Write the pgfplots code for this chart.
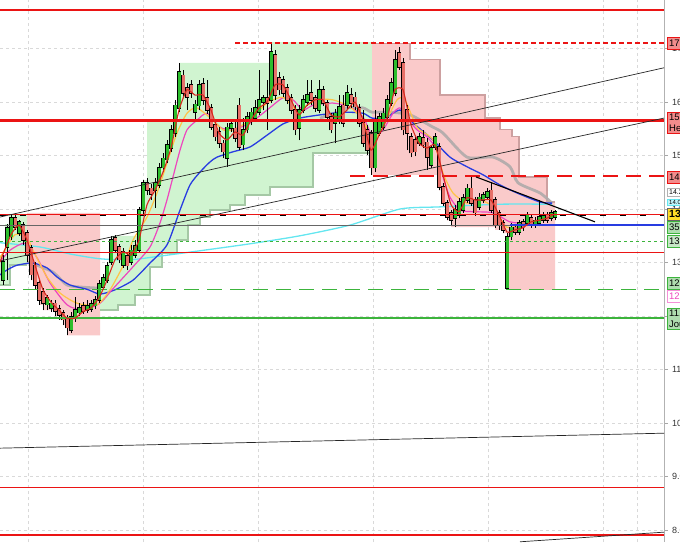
\documentclass[border=0pt]{standalone}
\usepackage{pgfplots}
\pgfplotsset{compat=1.18}
\usepackage{pgfplotstable}
\usepackage{fontspec}
\setmainfont{Liberation Sans}

\definecolor{cgreen}{RGB}{45,190,45}
\definecolor{cred}{RGB}{230,112,104}
\definecolor{shgreen}{RGB}{208,244,208}
\definecolor{shpink}{RGB}{250,202,202}
\definecolor{lvred}{RGB}{235,20,20}
\definecolor{lvgreen}{RGB}{60,180,60}
\definecolor{maRed}{RGB}{215,40,30}
\definecolor{maYel}{RGB}{255,195,70}
\definecolor{maPink}{RGB}{238,70,190}
\definecolor{maBlue}{RGB}{40,60,225}
\definecolor{maCyan}{RGB}{100,230,240}
\definecolor{trGrey}{RGB}{175,170,170}
\definecolor{trGreen}{RGB}{165,200,165}
\definecolor{trPink}{RGB}{205,160,160}
\definecolor{tagred}{RGB}{242,140,140}
\definecolor{taggreen}{RGB}{175,222,175}
\definecolor{tagyel}{RGB}{255,221,40}

% x = bar position, o h l c = open high low close
\pgfplotstableread{
x o h l c
3 12.67 13.14 12.58 13.01
7 13.29 13.72 12.67 13.65
11 13.48 13.91 13.42 13.83
15 13.83 13.93 13.61 13.66
19 13.55 13.79 13.50 13.76
23 13.70 13.76 13.33 13.42
27 13.55 13.61 13.01 13.14
31 13.27 13.33 12.67 12.77
35 12.95 13.01 12.49 12.58
39 12.62 12.67 12.21 12.30
43 12.45 12.52 12.11 12.24
47 12.21 12.39 12.11 12.34
51 12.15 12.30 12.08 12.24
55 12.24 12.30 12.00 12.09
59 12.13 12.21 11.93 12.02
63 12.06 12.11 11.83 11.93
67 11.96 12.02 11.64 11.78
71 11.74 12.08 11.68 11.98
75 11.96 12.36 11.89 12.11
79 12.06 12.24 12.00 12.15
83 12.19 12.26 12.04 12.09
87 12.11 12.30 12.06 12.19
91 12.13 12.30 12.08 12.23
95 12.19 12.37 12.13 12.30
99 12.30 12.67 12.24 12.60
103 12.54 12.79 12.49 12.71
107 12.67 13.01 12.62 12.94
111 13.01 13.50 12.95 13.42
115 13.46 13.52 13.18 13.23
119 13.29 13.35 12.99 13.05
123 12.95 13.27 12.90 13.20
127 13.12 13.18 12.86 12.94
131 13.01 13.33 12.95 13.23
135 13.14 13.42 13.09 13.31
139 13.23 14.04 13.18 13.98
143 13.98 14.54 13.91 14.49
147 14.49 14.58 14.26 14.35
151 14.39 14.47 14.17 14.28
155 14.35 14.58 14.02 14.49
159 14.45 14.86 14.39 14.77
163 14.77 15.05 14.69 14.95
167 14.92 15.29 14.86 15.20
171 15.14 15.57 15.07 15.48
175 15.42 16.04 15.35 15.94
179 15.89 16.73 15.81 16.56
183 16.50 16.60 16.09 16.17
187 16.26 16.36 15.85 16.09
191 16.32 16.41 16.08 16.17
195 15.81 16.04 15.66 15.96
199 15.93 16.41 15.85 16.32
203 16.34 16.45 15.94 16.04
207 16.08 16.41 15.78 15.85
211 15.89 15.96 15.48 15.53
215 15.57 15.66 15.27 15.35
219 15.44 15.53 15.14 15.23
223 15.23 15.29 14.95 15.07
227 14.95 15.61 14.79 15.53
231 15.51 15.66 15.44 15.59
235 15.51 15.63 15.25 15.33
239 15.94 16.08 15.10 15.16
243 15.20 15.70 15.10 15.48
247 15.48 15.81 15.42 15.72
251 15.63 15.89 15.57 15.81
255 15.70 16.04 15.63 15.89
259 15.81 16.60 15.76 16.04
263 16.00 16.13 15.85 16.08
267 16.08 16.41 15.48 15.98
271 16.04 17.12 15.98 16.94
275 16.88 16.97 16.04 16.13
279 16.45 16.56 16.13 16.23
283 16.41 16.49 16.09 16.17
287 16.26 16.34 15.96 16.04
291 16.08 16.15 15.78 15.85
295 15.85 15.94 15.38 15.48
299 15.51 15.94 15.29 15.85
303 15.85 16.13 15.79 16.04
307 16.00 16.41 15.93 16.13
311 16.17 16.41 15.94 16.04
315 16.08 16.13 15.81 15.89
319 15.85 16.41 15.79 16.23
323 16.23 16.30 15.93 15.98
327 15.98 16.04 15.66 15.72
331 15.72 15.79 15.42 15.48
335 15.61 15.87 15.23 15.79
339 15.66 16.13 15.59 15.91
343 15.94 16.13 15.53 15.61
347 15.94 16.32 15.85 16.17
351 16.13 16.26 15.89 15.98
355 16.09 16.19 15.85 15.91
359 15.89 15.96 15.53 15.61
363 15.61 15.85 15.16 15.23
367 15.48 15.57 15.01 15.10
371 15.42 15.48 14.64 14.77
375 14.77 15.85 14.69 15.66
379 15.42 15.79 15.37 15.72
383 15.53 15.89 15.48 15.79
387 15.72 16.13 15.66 16.04
391 15.98 16.45 15.93 16.36
395 16.17 16.97 16.11 16.79
399 16.92 17.03 16.60 16.65
403 16.73 16.82 15.38 15.48
407 15.85 15.94 15.10 15.42
411 15.35 15.42 14.97 15.05
415 15.29 15.37 14.99 15.07
419 15.23 15.42 15.18 15.35
423 15.33 15.48 15.14 15.20
427 15.25 15.33 14.73 14.97
431 14.82 15.20 14.77 15.14
435 15.16 15.42 15.10 15.35
439 15.16 15.23 14.35 14.41
443 14.41 14.49 14.06 14.11
447 14.11 14.17 13.79 13.85
451 13.93 13.98 13.70 13.79
455 13.83 14.08 13.66 13.98
459 13.89 14.21 13.83 14.13
463 13.98 14.28 13.93 14.21
467 14.17 14.47 14.11 14.39
471 14.39 14.60 14.06 14.11
475 14.17 14.22 13.87 13.93
479 14.04 14.30 13.98 14.22
483 14.17 14.32 14.11 14.26
487 14.22 14.39 14.17 14.32
491 14.35 14.51 13.93 13.98
495 14.17 14.22 13.65 13.70
499 13.93 13.98 13.61 13.70
503 13.74 13.79 13.55 13.61
507 12.52 13.55 12.49 13.48
511 13.48 13.74 13.42 13.66
515 13.66 13.72 13.52 13.57
519 13.57 13.79 13.52 13.74
523 13.76 13.81 13.59 13.65
527 13.74 13.95 13.68 13.89
531 13.83 13.89 13.65 13.70
535 13.70 13.85 13.65 13.79
539 13.74 14.17 13.68 13.85
543 13.79 13.95 13.74 13.89
547 13.89 13.95 13.74 13.79
551 13.83 13.98 13.78 13.93
555 13.85 13.98 13.79 13.95
}\candles

\tikzset{tag/.style={anchor=west, inner xsep=2pt, inner ysep=0pt, minimum height=12.5pt,
  font=\fontsize{9.5}{11}\selectfont, text=black}}
\pgfplotsset{nomark/.style={only marks, mark=*, mark size=0pt, mark options={draw=none, fill=none}},
  level/.style={solid, line width=1.4pt, draw=#1, color=#1}}

\begin{document}
\begin{tikzpicture}
\useasboundingbox (0pt,0pt) rectangle (680pt,542pt);
\clip (0pt,0pt) rectangle (680pt,542pt);
\begin{axis}[
  at={(0pt,0pt)}, anchor=south west, scale only axis,
  width=664pt, height=542pt,
  xmin=0, xmax=664, ymin=7.776, ymax=17.907,
  clip=false,
  axis x line*=bottom, x axis line style={draw=none},
  xtick={28,143,258,373,488,603,637}, xticklabels={}, xtick style={draw=none},
  axis y line*=right, y axis line style={draw=gray!60, line width=0.8pt, -},
  ytick={8,...,17}, yticklabels={8.00,9.00,10.00,11.00,12.00,13.00,14.00,15.00,16.00,17.00},
  yticklabel pos=right, ytick pos=right, tick align=outside, major tick length=4pt,
  ytick style={draw=gray!70, line width=0.6pt},
  yticklabel style={font=\fontsize{9}{11}\selectfont, text=black!80, xshift=0.5pt},
  xmajorgrids, ymajorgrids,
  major grid style={gray!30, dash pattern=on 3pt off 3pt, line width=0.5pt},
]

% trend zones
\addplot[fill=shgreen, draw=none] coordinates {(0,13.14) (5,13.14) (5,13.72) (9,13.72) (9,13.91) (27,13.91) (27,12.95) (10,12.95) (10,12.58) (0,12.58)};
\addplot[fill=shpink, draw=none] coordinates {(27,13.93) (100,13.93) (100,11.64) (67,11.64) (67,11.83) (63,11.83) (63,11.93) (59,11.93) (59,12.00) (55,12.00) (55,12.11) (43,12.11) (43,12.21) (39,12.21) (39,12.49) (35,12.49) (35,12.67) (31,12.67) (31,13.01) (27,13.01)};
\addplot[fill=shgreen, draw=none] coordinates {(100,12.67) (103,12.67) (103,12.79) (107,12.79) (107,13.01) (111,13.01) (111,13.50) (139,13.50) (139,14.04) (143,14.04) (143,14.54) (147,14.54) (147,15.66) (179,15.66) (179,16.73) (271,16.73) (271,17.12) (372,17.12)
  (372,15.05) (313,15.05) (313,14.41) (270,14.41) (270,14.26) (245,14.26) (245,14.08) (230,14.08) (230,13.98) (210,13.98) (210,13.85) (200,13.85) (200,13.70) (188,13.70) (188,13.42) (177,13.42) (177,13.18) (162,13.18) (162,12.92) (150,12.92) (150,12.39) (135,12.39) (135,12.21) (118,12.21) (118,12.11) (100,12.11)};
\addplot[fill=shpink, draw=none] coordinates {(372,17.10) (410,17.10) (410,16.79) (440,16.79) (440,16.13) (485,16.13) (485,15.70) (500,15.70) (500,15.48) (512,15.48) (512,15.35) (519,15.35) (519,14.60) (547,14.60) (547,14.13) (555,14.13)
  (555,12.49) (507,12.49) (507,13.55) (503,13.55) (503,13.61) (495,13.61) (495,13.66) (451,13.66) (451,13.79) (447,13.79) (447,14.06) (443,14.06) (443,14.35) (439,14.35) (439,14.64) (372,14.64)};

% trailing stops
\addplot[trGreen, line width=1.8pt] coordinates {(0,12.58) (10,12.58) (10,12.95) (27,12.95)};
\addplot[trGreen, line width=1.8pt] coordinates {(100,12.11) (118,12.11) (118,12.21) (135,12.21) (135,12.39) (150,12.39) (150,12.92) (162,12.92) (162,13.18) (177,13.18) (177,13.42) (188,13.42) (188,13.70) (200,13.70) (200,13.85) (210,13.85) (210,13.98) (230,13.98) (230,14.08) (245,14.08) (245,14.26) (270,14.26) (270,14.41) (313,14.41) (313,15.05) (372,15.05)};
\addplot[trPink, line width=1.2pt] coordinates {(372,17.10) (410,17.10) (410,16.79) (440,16.79) (440,16.13) (485,16.13) (485,15.70) (500,15.70) (500,15.48) (512,15.48) (512,15.35) (519,15.35) (519,14.60) (547,14.60) (547,14.13) (555,14.13)};

% moving averages
\addplot[maCyan, line width=1.3pt, smooth, tension=0.4] coordinates {(0,13.37) (40,13.29) (70,13.16) (100,13.07) (130,13.05) (160,13.12) (200,13.22) (250,13.35) (300,13.50) (350,13.70) (400,14.00) (440,14.04) (500,14.09) (552,14.09)};
\addplot[trGrey, line width=2.8pt, opacity=0.9, smooth, tension=0.4] coordinates {(27,13.01) (37,12.95) (53,12.82) (67,12.58) (82,12.54) (100,12.52)};
\addplot[trGrey, line width=2.8pt, opacity=0.9, smooth, tension=0.4] coordinates {(320,15.70) (337,15.81) (347,15.89) (363,15.89) (372,15.81) (390,15.81) (410,15.76) (433,15.53) (443,15.42) (467,14.97) (493,14.97) (510,14.79) (518,14.49) (540,14.30) (552,14.11)};
\addplot[maBlue, line width=1.3pt, smooth, tension=0.4] coordinates {(0,12.77) (7,12.86) (17,12.95) (33,12.99) (47,12.90) (57,12.73) (70,12.58) (87,12.50) (100,12.41) (115,12.49) (133,12.67) (150,12.99) (167,13.33) (180,13.98) (190,14.45) (200,14.69) (210,14.88) (217,14.97) (233,15.07) (250,15.16) (267,15.38) (283,15.59) (300,15.70) (320,15.76) (343,15.81) (363,15.79) (372,15.70) (385,15.70) (400,15.85) (413,15.61) (433,15.29) (450,14.97) (467,14.79) (483,14.64) (500,14.45) (517,14.30) (540,14.13) (552,14.11)};
\addplot[maPink, line width=1.2pt, smooth, tension=0.4] coordinates {(0,13.01) (10,13.23) (25,13.36) (37,13.09) (50,12.62) (67,12.21) (83,12.11) (100,12.24) (112,12.49) (133,12.92) (150,13.29) (160,13.74) (167,14.17) (173,14.60) (180,15.10) (187,15.48) (197,15.66) (207,15.79) (220,15.53) (233,15.48) (250,15.61) (267,15.85) (283,16.08) (293,16.04) (303,15.85) (313,15.94) (333,15.98) (350,15.91) (363,15.72) (373,15.35) (383,15.48) (393,15.79) (400,15.89) (407,15.70) (417,15.48) (427,15.35) (437,15.10) (443,14.60) (450,14.22) (460,13.98) (473,13.95) (493,13.93) (510,13.76) (527,13.74) (547,13.85) (555,13.89)};
\addplot[maYel, line width=1.2pt, smooth, tension=0.4] coordinates {(0,13.09) (15,13.52) (27,13.46) (33,13.23) (47,12.73) (60,12.43) (77,12.24) (97,12.21) (110,12.49) (125,13.01) (133,13.42) (147,13.85) (157,14.30) (167,14.86) (177,15.42) (187,15.79) (197,15.89) (213,15.66) (223,15.48) (233,15.48) (250,15.66) (267,15.98) (283,16.09) (297,15.85) (317,16.04) (333,16.04) (350,15.91) (363,15.66) (373,15.29) (383,15.53) (397,16.04) (405,16.04) (417,15.53) (433,15.29) (443,14.67) (453,14.30) (467,14.11) (480,14.17) (493,14.04) (507,13.66) (527,13.74) (547,13.85) (555,13.91)};

% candles: wicks, then bodies (black outline, coloured fill)
\addplot[black, nomark, error bars/.cd, y dir=plus, y explicit, error mark=none,
  error bar style={line width=0.7pt}]
  table[x=x, y=l, y error expr=\thisrow{h}-\thisrow{l}] {\candles};
\addplot[black, nomark, restrict expr to domain={\thisrow{c}-\thisrow{o}}{0:20},
  error bars/.cd, y dir=plus, y explicit, error mark=none, error bar style={line width=4.2pt}]
  table[x=x, y expr=\thisrow{o}-0.012, y error expr=\thisrow{c}-\thisrow{o}+0.024] {\candles};
\addplot[cgreen, nomark, restrict expr to domain={\thisrow{c}-\thisrow{o}}{0:20},
  error bars/.cd, y dir=plus, y explicit, error mark=none, error bar style={line width=3pt}]
  table[x=x, y=o, y error expr=\thisrow{c}-\thisrow{o}] {\candles};
\addplot[black, nomark, restrict expr to domain={\thisrow{o}-\thisrow{c}}{0.001:20},
  error bars/.cd, y dir=plus, y explicit, error mark=none, error bar style={line width=4.2pt}]
  table[x=x, y expr=\thisrow{c}-0.012, y error expr=\thisrow{o}-\thisrow{c}+0.024] {\candles};
\addplot[cred, nomark, restrict expr to domain={\thisrow{o}-\thisrow{c}}{0.001:20},
  error bars/.cd, y dir=plus, y explicit, error mark=none, error bar style={line width=3pt}]
  table[x=x, y=c, y error expr=\thisrow{o}-\thisrow{c}] {\candles};

% horizontal levels
\addplot[level=lvred] coordinates {(0,17.72) (664,17.72)};
\addplot[level=lvred, dash pattern=on 5pt off 3pt] coordinates {(235,17.10) (664,17.10)};
\addplot[level=lvred, line width=3.4pt] coordinates {(0,15.65) (664,15.65)};
\addplot[level=lvred, dash pattern=on 15pt off 8pt] coordinates {(350,14.62) (664,14.62)};
\addplot[level=lvred, line width=1.1pt] coordinates {(0,13.89) (664,13.89)};
\addplot[black, line width=0.6pt, dash pattern=on 6pt off 14pt] coordinates {(0,13.89) (664,13.89)};
\addplot[gray!80!black, line width=0.6pt] coordinates {(0,13.70) (510,13.70)};
\addplot[maBlue, line width=2pt] coordinates {(510,13.70) (664,13.70)};
\addplot[level=lvgreen, line width=1.2pt, dash pattern=on 3pt off 3pt] coordinates {(0,13.40) (664,13.40)};
\addplot[level=lvred, line width=1.2pt] coordinates {(0,13.18) (664,13.18)};
\addplot[level=lvgreen, dash pattern=on 15pt off 8pt] coordinates {(0,12.50) (664,12.50)};
\addplot[level=lvgreen, line width=1.6pt] coordinates {(0,11.96) (664,11.96)};
\addplot[level=lvred] coordinates {(0,8.79) (664,8.79)};
\addplot[level=lvred] coordinates {(0,7.91) (664,7.91)};

% trend lines
\addplot[black!85, line width=0.7pt] coordinates {(0,13.85) (664,16.64)};
\addplot[black!85, line width=0.7pt] coordinates {(0,13.03) (664,15.70)};
\addplot[black!85, line width=0.7pt] coordinates {(0,9.53) (664,9.81)};
\addplot[black!85, line width=0.7pt] coordinates {(520,7.78) (664,7.96)};
\addplot[black, line width=1.1pt] coordinates {(476,14.60) (595,13.76)};

% short moving average
\addplot[maRed, line width=1.1pt, smooth, tension=0.3] coordinates {(0,13.01) (11,13.52) (19,13.70) (27,13.42) (35,12.95) (43,12.49) (51,12.26) (59,12.11) (67,11.96) (75,11.96) (83,12.08) (91,12.15) (99,12.34) (107,12.67) (115,13.05) (123,13.20) (131,13.14) (139,13.42) (147,14.08) (155,14.35) (163,14.69) (171,15.14) (179,15.85) (187,16.23) (195,16.13) (203,16.13) (211,15.85) (219,15.42) (227,15.29) (235,15.44) (243,15.38) (251,15.66) (259,15.89) (267,16.00) (275,16.32) (283,16.32) (291,16.04) (299,15.76) (307,15.94) (315,16.04) (323,16.04) (331,15.76) (339,15.72) (347,15.85) (355,16.00) (363,15.66) (371,15.10) (379,15.38) (387,15.70) (395,16.23) (403,16.23) (411,15.57) (419,15.23) (427,15.14) (435,15.20) (443,14.64) (451,14.08) (459,13.95) (467,14.21) (475,14.17) (483,14.17) (491,14.17) (499,13.89) (507,13.57) (515,13.61) (523,13.65) (531,13.76) (539,13.79) (547,13.83) (555,13.91)};
\end{axis}

% price tags on the right edge
\node[tag, fill=tagred, draw=lvred] at (667pt,499pt) {17.10};
\node[tag, fill=tagred, draw=lvred, anchor=north west, align=left, inner ysep=1.5pt] at (667pt,430pt) {15.65\\Hebdo};
\node[tag, fill=tagred, draw=lvred] at (667pt,365pt) {14.62};
\node[tag, fill=white, draw=gray!60, minimum height=8pt, font=\fontsize{7}{8}\selectfont] at (667pt,350pt) {14.29};
\node[tag, fill=maCyan!40, draw=maCyan, minimum height=6pt, font=\fontsize{6}{7}\selectfont] at (667pt,340pt) {14.09};
\node[tag, fill=tagyel, draw=black!60, font=\bfseries\fontsize{10.5}{12}\selectfont] at (667pt,328pt) {13.91};
\node[tag, fill=taggreen, draw=lvgreen] at (667pt,315pt) {35.20};
\node[tag, fill=taggreen!70!white, draw=lvgreen] at (667pt,301pt) {13.40};
\node[tag, fill=taggreen, draw=lvgreen] at (667pt,259pt) {12.50};
\node[tag, fill=white, draw=maPink!60, text=maPink] at (667pt,246pt) {12.30};
\node[tag, fill=taggreen, draw=lvgreen, anchor=north west, align=left, inner ysep=1.5pt] at (667pt,234pt) {11.96\\Jour};
\end{tikzpicture}
\end{document}
